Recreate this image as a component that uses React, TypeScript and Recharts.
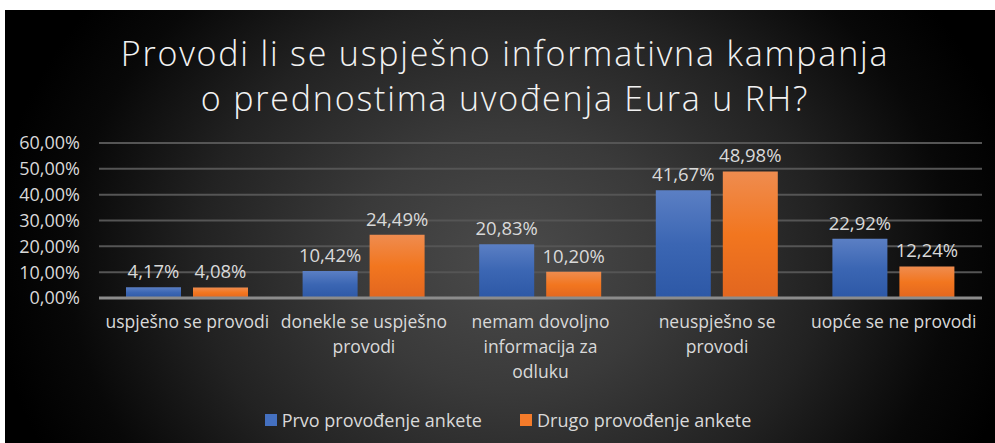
import { BarChart, Bar, XAxis, YAxis, CartesianGrid, LabelList } from "recharts";

const categories = [
  "uspješno se provodi",
  "donekle se uspješno\nprovodi",
  "nemam dovoljno\ninformacija za\nodluku",
  "neuspješno se\nprovodi",
  "uopće se ne provodi",
];
const prvo = [4.17, 10.42, 20.83, 41.67, 22.92];
const drugo = [4.08, 24.49, 10.2, 48.98, 12.24];
const seriesNames = ["Prvo provođenje ankete", "Drugo provođenje ankete"];
const yTicks = [0, 10, 20, 30, 40, 50, 60];
const titleLines = [
  "Provodi li se uspješno informativna kampanja",
  "o prednostima uvođenja Eura u RH?",
];

const data = categories.map((name, i) => ({ name, prvo: prvo[i], drugo: drugo[i] }));

const FONT = "'Open Sans', 'Noto Sans', sans-serif";
const TEXT = "#d9d9d9";
const fmt = (v: number) => v.toFixed(2).replace(".", ",") + "%";

const CategoryTick = (props: any) => {
  const { x, y, payload } = props;
  const lines = String(payload.value).split("\n");
  return (
    <text x={x} y={y} textAnchor="middle" fill={TEXT} fontSize={17.5} fontFamily={FONT}>
      {lines.map((l, i) => (
        <tspan key={i} x={x} dy={i === 0 ? 28 : 25}>
          {l}
        </tspan>
      ))}
    </text>
  );
};

export default function App() {
  return (
    <div style={{ position: "relative", width: 995, height: 443, background: "#fff", overflow: "hidden" }}>
      <style>{`body{margin:0}`}</style>
      <div
        style={{
          position: "absolute",
          left: 5,
          top: 10,
          width: 990,
          height: 433,
          background:
            "radial-gradient(ellipse 520px 430px at 505px 250px, #4b4b4b 0%, #3a3a3a 30%, #222 60%, #080808 85%, #000 100%)",
        }}
      />
      <div
        style={{
          position: "absolute",
          left: 0,
          top: 31,
          width: 1010,
          textAlign: "center",
          color: "#f2f2f2",
          fontFamily: FONT,
          fontWeight: 300,
          fontSize: 34,
          letterSpacing: 1.8,
          lineHeight: "45px",
        }}
      >
        {titleLines.map((t) => (
          <div key={t}>{t}</div>
        ))}
      </div>
      <div style={{ position: "absolute", left: 0, top: 0 }}>
        <BarChart
          width={995}
          height={443}
          data={data}
          margin={{ top: 143, right: 13, bottom: 115, left: 0 }}
          barCategoryGap={27}
          barGap={12}
        >
          <CartesianGrid vertical={false} stroke="#555" strokeWidth={2} />
          <YAxis
            width={99}
            domain={[0, 60]}
            ticks={yTicks}
            interval={0}
            tickFormatter={fmt}
            axisLine={false}
            tickLine={false}
            tickSize={0}
            tickMargin={19}
            tick={{ fill: TEXT, fontSize: 18, fontFamily: FONT }}
          />
          <XAxis
            dataKey="name"
            interval={0}
            height={30}
            axisLine={{ stroke: "#8c8c8c", strokeWidth: 3 }}
            tickLine={false}
            tickSize={0}
            tick={<CategoryTick />}
          />
          <defs>
            <linearGradient id="gBlue" x1="0" y1="0" x2="0" y2="1">
              <stop offset="0%" stopColor="#5b7fc4" />
              <stop offset="50%" stopColor="#3b66b3" />
              <stop offset="100%" stopColor="#2d58a6" />
            </linearGradient>
            <linearGradient id="gOrange" x1="0" y1="0" x2="0" y2="1">
              <stop offset="0%" stopColor="#ef8c4f" />
              <stop offset="50%" stopColor="#f2761f" />
              <stop offset="100%" stopColor="#e2661f" />
            </linearGradient>
          </defs>
          <Bar dataKey="prvo" name={seriesNames[0]} fill="url(#gBlue)" isAnimationActive={false}>
            <LabelList dataKey="prvo" position="top" offset={9} formatter={fmt} fill={TEXT} fontSize={18.5} fontFamily={FONT} />
          </Bar>
          <Bar dataKey="drugo" name={seriesNames[1]} fill="url(#gOrange)" isAnimationActive={false}>
            <LabelList dataKey="drugo" position="top" offset={9} formatter={fmt} fill={TEXT} fontSize={18.5} fontFamily={FONT} />
          </Bar>
        </BarChart>
      </div>
      <div
        style={{
          position: "absolute",
          left: 0,
          top: 408,
          width: 1016,
          display: "flex",
          justifyContent: "center",
          gap: 38,
          color: TEXT,
          fontFamily: FONT,
          fontSize: 18,
          lineHeight: "24px",
        }}
      >
        {seriesNames.map((n, i) => (
          <div key={n} style={{ display: "flex", alignItems: "center", gap: 5 }}>
            <span style={{ width: 12, height: 12, background: i === 0 ? "#4470c0" : "#f47b2a", display: "inline-block" }} />
            <span>{n}</span>
          </div>
        ))}
      </div>
    </div>
  );
}
